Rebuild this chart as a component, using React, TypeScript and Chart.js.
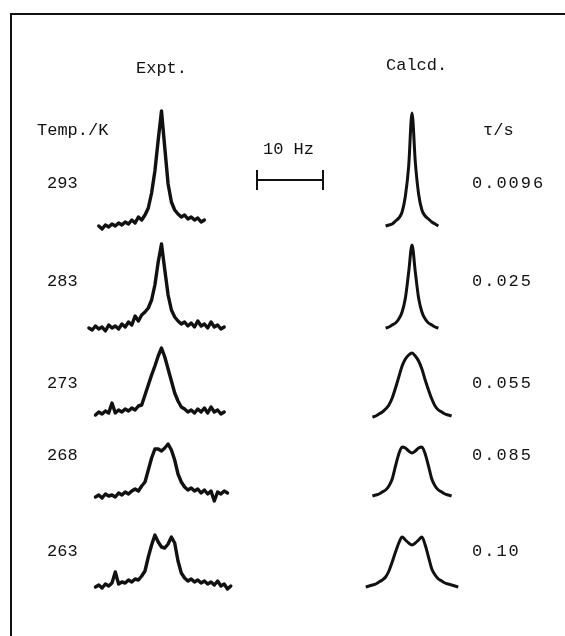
import React, { useEffect, useRef } from "react";
import { Chart, registerables } from "chart.js";

Chart.register(...registerables);

// ---------- data ----------
const temperatures = ["293", "283", "273", "268", "263"];
const tauValues = ["0.0096", "0.025", "0.055", "0.085", "0.10"];

const freqStep = 0.5; // Hz between samples
const exptFreqStart = [-9.5, -11, -10, -10, -10];
const calcFreqStart = [-4, -4, -6, -6, -7];

const expt293 = [2, -1, 3, 1, 4, 2, 5, 3, 6, 4, 8, 5, 11, 8, 13, 20, 35, 57, 88, 117, 80, 44, 26, 18, 14, 11, 13, 9, 11, 8, 10, 6, 8];
const expt283 = [2, 0, 4, 1, 3, -1, 5, 2, 4, 1, 6, 3, 8, 5, 14, 9, 15, 18, 22, 30, 45, 68, 86, 60, 35, 20, 13, 9, 6, 8, 4, 7, 3, 9, 4, 6, 2, 8, 3, 5, 1, 3];
const expt273 = [0, 3, 1, 4, 2, 12, 2, 5, 3, 6, 4, 7, 5, 9, 10, 20, 30, 40, 49, 59, 67, 58, 46, 34, 22, 14, 8, 6, 3, 5, 2, 6, 3, 7, 2, 8, 3, 5, 1, 3];
const expt268 = [-1, 1, -2, 2, 0, 1, -1, 3, 1, 4, 2, 5, 7, 5, 10, 14, 26, 38, 47, 47, 45, 48, 52, 46, 36, 22, 14, 9, 6, 8, 5, 7, 3, 6, 2, 5, -5, 4, 2, 5, 3];
const expt263 = [0, 2, -1, 3, 1, 4, 15, 3, 5, 4, 7, 5, 8, 7, 11, 16, 30, 42, 52, 45, 40, 39, 43, 50, 44, 26, 14, 9, 6, 8, 5, 7, 4, 6, 3, 5, 2, 6, 1, 3, -2, 1];

const calc293 = [2, 3, 4, 7, 10, 16, 32, 62, 115, 66, 34, 18, 12, 9, 6, 4, 2];
const calc283 = [2, 3, 5, 7, 11, 18, 32, 58, 85, 58, 32, 18, 11, 7, 5, 3, 2];
const calc273 = [-2, -1, 1, 3, 6, 10, 17, 27, 38, 49, 56, 60, 62, 59, 54, 46, 35, 25, 16, 9, 5, 3, 1, 0, -1];
const calc268 = [0, 1, 2, 4, 6, 10, 17, 30, 42, 49, 48, 45, 43, 45, 48, 49, 42, 30, 17, 10, 6, 4, 2, 1, 0];
const calc263 = [0, 1, 2, 3, 5, 7, 10, 16, 25, 35, 44, 50, 47, 44, 42, 44, 47, 50, 42, 30, 18, 12, 8, 6, 4, 3, 2, 1, 0];

const exptSeries = [expt293, expt283, expt273, expt268, expt263];
const calcSeries = [calc293, calc283, calc273, calc268, calc263];

const scaleBarHz = 10;

// ---------- layout ----------
const W = 565;
const H = 636;
const PX_PER_HZ = 6.6;
const EXPT_CENTER_PX = 161.5;
const CALC_OFFSET_HZ = (412 - EXPT_CENTER_PX) / PX_PER_HZ;
const ROW_BASE_PX = [228, 330, 415, 496, 587];
const BAR_START_HZ = (257 - EXPT_CENTER_PX) / PX_PER_HZ;
const BAR_Y_PX = 180;
const FONT = '"Liberation Mono", "DejaVu Sans Mono", monospace';
const INK = "#111";

function toPoints(values: number[], start: number, shiftHz: number, basePx: number) {
  const baseVal = H - basePx;
  return values.map((v, i) => ({ x: start + i * freqStep + shiftHz, y: baseVal + v }));
}

const decorPlugin = {
  id: "decor",
  beforeDraw(chart: any) {
    const ctx = chart.ctx;
    ctx.save();
    ctx.fillStyle = "#fff";
    ctx.fillRect(0, 0, chart.width, chart.height);
    ctx.restore();
  },
  afterDraw(chart: any) {
    const ctx = chart.ctx as CanvasRenderingContext2D;
    ctx.save();
    ctx.strokeStyle = INK;
    ctx.lineWidth = 2;
    ctx.beginPath();
    ctx.moveTo(10, 14);
    ctx.lineTo(W, 14);
    ctx.moveTo(11, 14);
    ctx.lineTo(11, H);
    ctx.stroke();

    ctx.fillStyle = INK;
    ctx.textBaseline = "middle";
    ctx.textAlign = "left";
    ctx.font = `17px ${FONT}`;
    ctx.fillText("Expt.", 136, 68);
    ctx.fillText("Calcd.", 386, 65);
    ctx.fillText("Temp./K", 37, 130);
    ctx.fillText("τ/s", 483, 130);
    ctx.fillText("10 Hz", 263, 149);
    const rowTextY = [183, 281, 383, 455, 551];
    temperatures.forEach((t, i) => ctx.fillText(t, 47, rowTextY[i]));
    (ctx as any).letterSpacing = "2px";
    tauValues.forEach((t, i) => ctx.fillText(t, 472, rowTextY[i]));
    ctx.restore();
  },
};

export default function App() {
  const ref = useRef<HTMLCanvasElement | null>(null);

  useEffect(() => {
    if (!ref.current) return;
    const datasets: any[] = [];
    exptSeries.forEach((s, i) => {
      datasets.push({
        data: toPoints(s, exptFreqStart[i], 0, ROW_BASE_PX[i]),
        borderColor: INK,
        borderWidth: 3.4,
        borderJoinStyle: "round",
        borderCapStyle: "round",
        pointRadius: 0,
        tension: 0,
        fill: false,
      });
    });
    calcSeries.forEach((s, i) => {
      datasets.push({
        data: toPoints(s, calcFreqStart[i], CALC_OFFSET_HZ, ROW_BASE_PX[i]),
        borderColor: INK,
        borderWidth: 3,
        borderJoinStyle: "round",
        pointRadius: 0,
        cubicInterpolationMode: "monotone",
        fill: false,
      });
    });
    datasets.push({
      data: [
        { x: BAR_START_HZ, y: H - BAR_Y_PX },
        { x: BAR_START_HZ + scaleBarHz, y: H - BAR_Y_PX },
      ],
      borderColor: INK,
      borderWidth: 2,
      pointStyle: "line",
      pointRadius: 10,
      pointRotation: 90,
      pointBorderColor: INK,
      pointBorderWidth: 2,
      fill: false,
    });

    const chart = new Chart(ref.current, {
      type: "line",
      data: { datasets },
      options: {
        animation: false,
        responsive: false,
        devicePixelRatio: 1,
        layout: { padding: 0, autoPadding: false },
        plugins: { legend: { display: false }, tooltip: { enabled: false } },
        scales: {
          x: {
            type: "linear",
            display: false,
            min: -EXPT_CENTER_PX / PX_PER_HZ,
            max: (W - EXPT_CENTER_PX) / PX_PER_HZ,
          },
          y: { type: "linear", display: false, min: 0, max: H },
        },
      },
      plugins: [decorPlugin],
    });
    return () => chart.destroy();
  }, []);

  return (
    <div style={{ position: "fixed", left: 0, top: 0, width: W, height: H, background: "#fff" }}>
      <canvas ref={ref} width={W} height={H} style={{ width: W, height: H, display: "block" }} />
    </div>
  );
}
